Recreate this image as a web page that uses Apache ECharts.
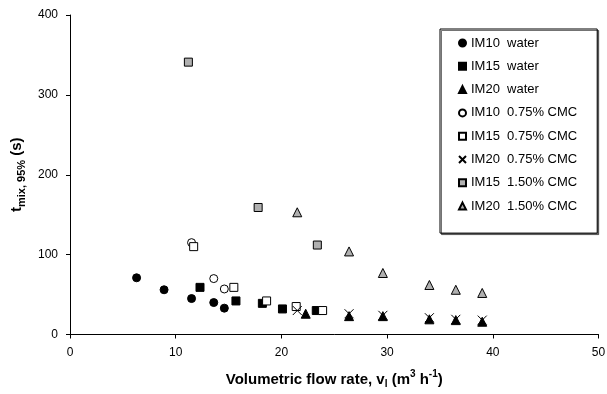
<!DOCTYPE html>
<html>
<head>
<meta charset="utf-8">
<script src="https://cdn.jsdelivr.net/npm/echarts@6/dist/echarts.min.js"></script>
<style>
html,body{margin:0;padding:0;background:#fff;}
#c{width:607px;height:394px;}
</style>
</head>
<body>
<div id="c"></div>
<script>
// Data: [flow rate (m3/h), t_mix,95% (s)]
const im10Water   = [[6.3,71],[8.9,56],[11.5,45],[13.6,40],[14.6,33]];
const im15Water   = [[12.3,59],[15.7,42],[18.2,39],[20.1,32],[23.3,30]];
const im20Water   = [[22.3,26],[26.4,23],[29.6,23],[34.0,19],[36.5,18],[39.0,16]];
const im10Cmc075  = [[11.5,115],[13.6,70],[14.6,57]];
const im15Cmc075  = [[11.7,110],[15.5,59],[18.6,42],[21.4,35],[23.9,30]];
const im20Cmc075  = [[21.5,30],[26.4,26],[29.6,24],[34.0,21],[36.5,19],[39.0,18]];
const im15Cmc150  = [[11.2,341],[17.8,159],[23.4,112]];
const im20Cmc150  = [[21.5,153],[26.4,104],[29.6,77],[34.0,62],[36.5,56],[39.0,52]];

const seriesNames = ['IM10  water','IM15  water','IM20  water','IM10  0.75% CMC','IM15  0.75% CMC','IM20  0.75% CMC','IM15  1.50% CMC','IM20  1.50% CMC'];
const xTicks = [0,10,20,30,40,50];
const yTicks = [0,100,200,300,400];

const FONT = 'Liberation Sans, Arial, sans-serif';
const GRAY = '#b0b0b0';
const CROSS = 'path://M0,0L10,10M10,0L0,10';

function mk(name, data, symbol, size, fill, border) {
  return {
    name: name, type: 'scatter', data: data, symbol: symbol, symbolSize: size,
    itemStyle: { color: fill, borderColor: border, borderWidth: 1, opacity: 1 },
    emphasis: { disabled: true }, animation: false
  };
}

const chart = echarts.init(document.getElementById('c'), null, {renderer: 'canvas'});
chart.setOption({
  backgroundColor: '#fff',
  animation: false,
  textStyle: { fontFamily: FONT, color: '#000' },
  grid: { left: 70, top: 15, width: 528.5, height: 319.5, containLabel: false, outerBoundsMode: 'none' },
  xAxis: {
    type: 'value', min: xTicks[0], max: xTicks[xTicks.length-1], interval: 10,
    axisLine: { show: true, onZero: false, lineStyle: { color: '#000', width: 1 } },
    axisTick: { show: true, inside: false, length: 4, lineStyle: { color: '#000' } },
    axisLabel: { color: '#000', fontSize: 12, fontFamily: FONT, margin: 12 },
    splitLine: { show: false },
    name: '{b|Volumetric flow rate, v}{bs|l}{b| (m}{bp|3}{b| h}{bp|-1}{b|)}',
    nameLocation: 'middle', nameGap: 35,
    nameTextStyle: {
      rich: {
        b:  { fontFamily: FONT, fontWeight: 'bold', fontSize: 15, color: '#000', lineHeight: 20, verticalAlign: 'middle' },
        bs: { fontFamily: FONT, fontWeight: 'bold', fontSize: 10, color: '#000', lineHeight: 20, verticalAlign: 'bottom' },
        bp: { fontFamily: FONT, fontWeight: 'bold', fontSize: 10, color: '#000', lineHeight: 20, verticalAlign: 'top' }
      }
    }
  },
  yAxis: {
    type: 'value', min: yTicks[0], max: yTicks[yTicks.length-1], interval: 100,
    axisLine: { show: true, onZero: false, lineStyle: { color: '#000', width: 1 } },
    axisTick: { show: true, inside: false, length: 4, lineStyle: { color: '#000' } },
    axisLabel: { color: '#000', fontSize: 12, fontFamily: FONT, margin: 12 },
    splitLine: { show: false },
    name: '{b|t}{bs|mix, 95%}{b| (s)}',
    nameLocation: 'middle', nameGap: 33, nameRotate: 90,
    nameTextStyle: {
      rich: {
        b:  { fontFamily: FONT, fontWeight: 'bold', fontSize: 15, color: '#000', lineHeight: 20, verticalAlign: 'middle' },
        bs: { fontFamily: FONT, fontWeight: 'bold', fontSize: 11, color: '#000', lineHeight: 20, verticalAlign: 'bottom' }
      }
    }
  },
  legend: {
    orient: 'vertical', left: 440, top: 29,
    data: seriesNames,
    itemWidth: 7, itemHeight: 7, itemGap: 9.3, itemTextGap: 3.5,
    padding: [7, 20, 20, 16.5],
    borderColor: '#000', borderWidth: 1, backgroundColor: '#fff',
    shadowColor: 'rgba(0,0,0,0.55)', shadowOffsetX: 1.5, shadowOffsetY: 1.5, shadowBlur: 0,
    textStyle: { fontFamily: FONT, fontSize: 13, color: '#000', lineHeight: 14 },
    selectedMode: false, inactiveColor: '#000'
  },
  series: [
    mk(seriesNames[0], im10Water,  'circle',   8, '#000', '#000'),
    mk(seriesNames[1], im15Water,  'rect',     8, '#000', '#000'),
    mk(seriesNames[2], im20Water,  'triangle', 9, '#000', '#000'),
    mk(seriesNames[3], im10Cmc075, 'circle',   8, '#fff', '#000'),
    mk(seriesNames[4], im15Cmc075, 'rect',     8, '#fff', '#000'),
    mk(seriesNames[5], im20Cmc075, CROSS,      9, 'none', '#000'),
    mk(seriesNames[6], im15Cmc150, 'rect',     8, GRAY,   '#000'),
    mk(seriesNames[7], im20Cmc150, 'triangle', 9, GRAY,   '#000')
  ]
});
</script>
</body>
</html>
